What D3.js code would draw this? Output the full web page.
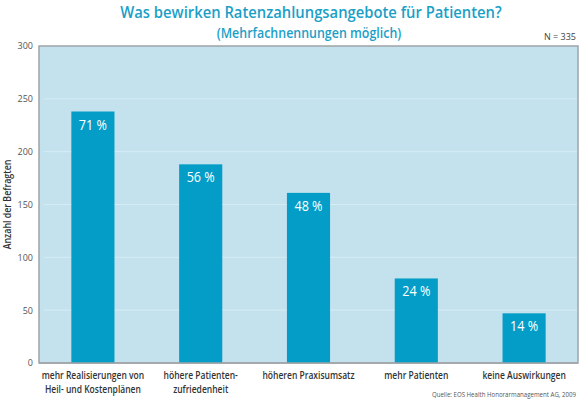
<!DOCTYPE html>
<html>
<head>
<meta charset="utf-8">
<script src="https://cdn.jsdelivr.net/npm/d3@7"></script>
<style>
  body { margin: 0; background: #fff; }
  text { font-family: "Open Sans", "Noto Sans", sans-serif; }
</style>
</head>
<body>
<div id="chart"></div>
<script>
// data
const categories = [
    ["mehr Realisierungen von", "Heil- und Kostenplänen"],
    ["höhere Patienten-", "zufriedenheit"],
    ["höheren Praxisumsatz"],
    ["mehr Patienten"],
    ["keine Auswirkungen"]
];
const counts = [238, 188, 161, 80, 47];
const percents = ["71 %", "56 %", "48 %", "24 %", "14 %"];
const yTicks = [0, 50, 100, 150, 200, 250, 300];

const width = 586, height = 400;
const margin = { left: 39, right: 8, top: 46, bottom: 37 };

// the reference face is a condensed humanist sans, squeeze Open Sans a little
function condense(sel, factor) {
    sel.each(function () {
        let w = this.getComputedTextLength();
        d3.select(this)
            .attr("textLength", w * factor)
            .attr("lengthAdjust", "spacingAndGlyphs");
    });
}

const svg = d3.select("#chart").append("svg")
    .attr("width", width)
    .attr("height", height);

let x = d3.scaleBand()
    .domain(d3.range(categories.length))
    .range([margin.left, width - margin.right])
    .paddingInner(0.6)
    .paddingOuter(0.3);

let y = d3.scaleLinear()
    .domain([0, 300])
    .range([height - margin.bottom, margin.top]);

//plot background
svg.append("rect")
    .attr("x", margin.left)
    .attr("y", y(300))
    .attr("width", width - margin.right - margin.left)
    .attr("height", y(0) - y(300))
    .style("fill", "#c3e2ee")
    .style("stroke", "#a0a4a8")
    .style("stroke-width", 1.5);

//grid lines
svg.append("g")
    .selectAll("line")
    .data(yTicks.slice(1, -1))
    .enter()
    .append("line")
    .attr("x1", margin.left + 5)
    .attr("x2", width - margin.right - 1)
    .attr("y1", d => y(d))
    .attr("y2", d => y(d))
    .style("stroke", "#d6ecf5")
    .style("stroke-width", 1);

//y axis
let yAxis = svg.append("g")
    .attr("transform", "translate(" + margin.left + ",0)")
    .call(d3.axisLeft(y).tickValues(yTicks).tickSize(0).tickPadding(6));
yAxis.select(".domain").remove();
yAxis.selectAll("text")
    .style("font-size", "9px")
    .style("fill", "#555");

//bars
svg.append("g")
    .selectAll("rect")
    .data(counts)
    .enter()
    .append("rect")
    .attr("x", (d, i) => x(i))
    .attr("y", d => y(d))
    .attr("width", x.bandwidth())
    .attr("height", d => y(0) - y(d))
    .style("fill", "#049dc7");

//percent labels
svg.append("g")
    .selectAll("text")
    .data(counts)
    .enter()
    .append("text")
    .attr("x", (d, i) => x(i) + x.bandwidth() / 2)
    .attr("y", d => y(d) + 18)
    .attr("text-anchor", "middle")
    .style("font-size", "14px")
    .style("fill", "#fff")
    .text((d, i) => percents[i])
    .call(condense, 0.9);

//bottom axis line
svg.append("line")
    .attr("x1", margin.left)
    .attr("x2", width - margin.right)
    .attr("y1", y(0))
    .attr("y2", y(0))
    .style("stroke", "#a0a4a8")
    .style("stroke-width", 1.5);

//category labels
svg.append("g")
    .selectAll("text")
    .data(categories)
    .enter()
    .append("text")
    .attr("text-anchor", "middle")
    .style("font-size", "10px")
    .style("font-weight", "600")
    .style("fill", "#333")
    .each(function (d, i) {
        d3.select(this).selectAll("tspan")
            .data(d)
            .enter()
            .append("tspan")
            .attr("x", x(i) + x.bandwidth() / 2)
            .attr("y", (t, j) => y(0) + 16 + j * 14)
            .text(t => t)
            .call(condense, 0.85);
    });

//y axis title
svg.append("text")
    .attr("transform", "translate(11," + (y(150)) + ") rotate(-90)")
    .attr("text-anchor", "middle")
    .style("font-size", "10px")
    .style("font-weight", "600")
    .style("fill", "#333")
    .text("Anzahl der Befragten")
    .call(condense, 0.88);

//titles
svg.append("text")
    .attr("x", 311)
    .attr("y", 18)
    .attr("text-anchor", "middle")
    .style("font-size", "17px")
    .style("font-weight", "600")
    .style("fill", "#1b9fc7")
    .text("Was bewirken Ratenzahlungsangebote für Patienten?")
    .call(condense, 0.87);

svg.append("text")
    .attr("x", 309)
    .attr("y", 38)
    .attr("text-anchor", "middle")
    .style("font-size", "13.5px")
    .style("font-weight", "600")
    .style("fill", "#1b9fc7")
    .text("(Mehrfachnennungen möglich)")
    .call(condense, 0.92);

svg.append("text")
    .attr("x", width - 10)
    .attr("y", 40)
    .attr("text-anchor", "end")
    .style("font-size", "9px")
    .style("fill", "#444")
    .text("N = 335");

svg.append("text")
    .attr("x", width - 10)
    .attr("y", 397)
    .attr("text-anchor", "end")
    .style("font-size", "6.5px")
    .style("fill", "#555")
    .text("Quelle: EOS Health Honorarmanagement AG, 2009")
    .call(condense, 0.94);
</script>
</body>
</html>
